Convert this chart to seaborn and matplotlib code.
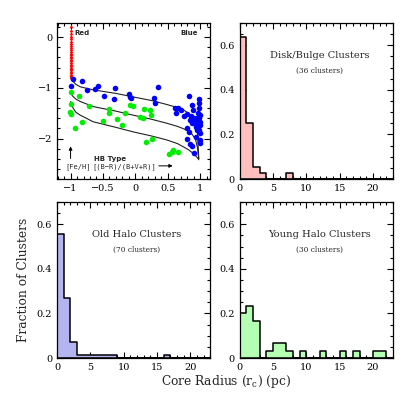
import numpy as np
import pandas as pd
import matplotlib
matplotlib.use("Agg")
import matplotlib.pyplot as plt
from matplotlib.ticker import MultipleLocator
import seaborn as sns

# HB type vs [Fe/H] panel
red_feh = [0.22, 0.14, 0.08, 0.03, -0.02, -0.07, -0.11, -0.15, -0.19, -0.23, -0.27, -0.31,
           -0.34, -0.37, -0.40, -0.43, -0.46, -0.49, -0.52, -0.55, -0.58, -0.61, -0.63,
           -0.66, -0.69, -0.72, -0.75, -0.78]
blue_hb = [-0.97, -1.0, -0.82, -0.74, -0.62, -0.58, -0.49, -0.33, -0.31, -0.09, -0.08, -0.06,
           0.35, 0.29, 0.31, 0.61, 0.63, 0.66, 0.70, 0.75, 0.83, 0.80, 0.98, 0.98, 0.88, 0.89,
           0.91, 0.85, 0.80, 0.83, 0.88, 0.93, 0.96, 1.0, 1.0, 1.0, 0.98, 0.96, 0.80, 0.85,
           0.88, 1.0, 0.91, 1.0, 0.93, 0.97, 0.95, 0.99, 1.0, 0.97, 0.92, 0.86, 0.94, 0.99]
blue_feh = [-0.83, -0.96, -0.86, -1.04, -1.03, -0.96, -1.16, -1.23, -1.00, -1.13, -1.19, -1.21,
            -0.99, -1.21, -1.29, -1.39, -1.50, -1.39, -1.43, -1.56, -1.17, -1.52, -1.23, -1.29,
            -1.34, -1.44, -1.60, -1.64, -1.80, -1.87, -1.70, -1.77, -1.67, -1.54, -1.74, -1.90,
            -1.83, -1.83, -2.00, -2.11, -2.15, -2.09, -2.28, -2.03, -1.97, -1.49, -1.60, -1.60,
            -1.67, -1.77, -1.67, -1.55, -1.73, -1.40]
green_hb = [-1.0, -1.0, -1.01, -1.0, -0.93, -0.87, -0.82, -0.72, -0.50, -0.40, -0.40, -0.28,
            -0.21, -0.16, -0.08, -0.04, 0.08, 0.12, 0.13, 0.17, 0.23, 0.24, 0.25, 0.52, 0.56,
            0.58, 0.66]
green_feh = [-1.09, -1.31, -1.47, -1.52, -1.80, -1.16, -1.67, -1.35, -1.66, -1.41, -1.50, -1.62,
             -1.74, -1.49, -1.34, -1.36, -1.57, -1.59, -1.41, -2.07, -1.43, -1.54, -2.00, -2.30,
             -2.26, -2.23, -2.26]

# model curves (HB type, [Fe/H])
curve_hb = [-1.0, -0.97, -0.92, -0.85, -0.65, -0.3, -0.03, 0.25, 0.49, 0.65, 0.75, 0.82, 0.88, 0.93, 0.96, 0.98]
upper_feh = [-0.78, -0.86, -0.93, -0.98, -1.04, -1.11, -1.18, -1.25, -1.33, -1.39, -1.44, -1.50, -1.57, -1.70, -1.90, -2.40]
middle_feh = [-1.10, -1.16, -1.22, -1.27, -1.37, -1.46, -1.54, -1.62, -1.70, -1.76, -1.81, -1.86, -1.92, -2.02, -2.18, -2.40]
lower_feh = [-1.27, -1.38, -1.48, -1.54, -1.67, -1.78, -1.87, -1.95, -2.03, -2.10, -2.17, -2.22, -2.28, -2.34, -2.38, -2.42]

# core radius histograms: clusters per 1 pc bin, bins 0..23
bin_left = np.arange(0, 23)
disk_counts = [23, 9, 2, 1, 0, 0, 0, 1, 0, 0, 0, 0, 0, 0, 0, 0, 0, 0, 0, 0, 0, 0, 0]
old_counts = [39, 19, 5, 1, 1, 1, 1, 1, 1, 0, 0, 0, 0, 0, 0, 0, 1, 0, 0, 0, 0, 0, 0]
young_counts = [6, 7, 5, 0, 1, 2, 2, 1, 0, 1, 0, 0, 1, 0, 0, 1, 0, 1, 0, 0, 1, 1, 0]

SERIF = "DejaVu Serif"
sns.set_style("ticks", {"xtick.direction": "in", "ytick.direction": "in"})
plt.rcParams['font.family'] = [SERIF, 'DejaVu Sans']
plt.rcParams['mathtext.fontset'] = 'dejavuserif'


def style_axes(ax, xmaj, xmin, ymaj, ymin):
    ax.xaxis.set_major_locator(MultipleLocator(xmaj))
    ax.xaxis.set_minor_locator(MultipleLocator(xmin))
    ax.yaxis.set_major_locator(MultipleLocator(ymaj))
    ax.yaxis.set_minor_locator(MultipleLocator(ymin))
    ax.tick_params(which='both', direction='in', top=True, right=True, labelsize=7,
                   width=0.8, colors='black', pad=3.5)
    ax.tick_params(which='major', length=4)
    ax.tick_params(which='minor', length=2)
    for s in ax.spines.values():
        s.set_visible(True)
        s.set_linewidth(0.9)
        s.set_color('black')
    ax.set_xlabel('')
    ax.set_ylabel('')


def hist_panel(ax, counts, color, title, sub):
    total = sum(counts)
    df = pd.DataFrame({'r': bin_left + 0.5, 'frac': np.array(counts) / total})
    df = df[df['frac'] > 0]
    sns.histplot(data=df, x='r', weights='frac', binwidth=1, binrange=(0, 23), element='step',
                 fill=True, color=color, alpha=1, edgecolor='black', linewidth=1.1, ax=ax)
    ax.set_xlim(0, 23)
    ax.set_ylim(0, 0.7)
    style_axes(ax, 5, 1, 0.2, 0.05)
    ax.yaxis.set_major_formatter(matplotlib.ticker.FuncFormatter(lambda v, p: '0' if v == 0 else f'{v:.1f}'))
    ax.text(12, 0.552, title, ha='center', va='center', fontsize=7.1)
    ax.text(12, 0.485, sub, ha='center', va='center', fontsize=5.3)


fig, axes = plt.subplots(2, 2, figsize=(4.15, 4.15), dpi=100)
fig.subplots_adjust(left=0.1373, right=0.947, top=0.9446, bottom=0.1373, wspace=0.19, hspace=0.147)

ax = axes[0, 0]
sns.lineplot(x=curve_hb, y=upper_feh, sort=False, color='#222222', lw=0.8, ax=ax)
sns.lineplot(x=curve_hb, y=middle_feh, sort=False, color='#222222', lw=0.8, ax=ax)
sns.lineplot(x=curve_hb, y=lower_feh, sort=False, color='#222222', lw=0.8, ax=ax)
sns.scatterplot(x=[-1.0] * len(red_feh), y=red_feh, color='#ff0000', marker='^', s=7,
                linewidth=0, ax=ax, zorder=3)
sns.scatterplot(x=blue_hb, y=blue_feh, color='#0000ff', s=16, linewidth=0, ax=ax, zorder=3)
sns.scatterplot(x=green_hb, y=green_feh, color='#00ee00', s=16, linewidth=0, ax=ax, zorder=3)
ax.set_xlim(-1.21, 1.16)
ax.set_ylim(-2.8, 0.28)
style_axes(ax, 0.5, 0.1, 1, 0.2)
ax.xaxis.set_major_formatter(matplotlib.ticker.FuncFormatter(
    lambda v, p: ('\u2212' if v < 0 else '') + ('%g' % abs(v))))
ax.yaxis.set_major_formatter(matplotlib.ticker.FuncFormatter(
    lambda v, p: ('\u2212' if v < 0 else '') + ('%g' % abs(v))))
ax.text(-0.94, 0.08, 'Red', fontsize=5, fontweight='bold', family='DejaVu Sans', va='center')
ax.text(0.96, 0.08, 'Blue', fontsize=5, fontweight='bold', family='DejaVu Sans', va='center', ha='right')
ax.text(-0.39, -2.40, 'HB Type', fontsize=5, fontweight='bold', family='DejaVu Sans', ha='center', va='center')
ax.text(-0.89, -2.56, '[Fe/H]', fontsize=5, family='DejaVu Sans Mono', ha='center', va='center')
ax.text(-0.17, -2.56, '[(B\u2212R)/(B+V+R)]', fontsize=5, family='DejaVu Sans Mono', ha='center', va='center')
ax.annotate('', xy=(0.62, -2.54), xytext=(0.32, -2.54),
            arrowprops=dict(arrowstyle='-|>', color='black', lw=0.7, mutation_scale=5))
ax.annotate('', xy=(-1.0, -2.10), xytext=(-1.0, -2.45),
            arrowprops=dict(arrowstyle='-|>', color='black', lw=0.7, mutation_scale=5))

hist_panel(axes[0, 1], disk_counts, '#ffbfbf', 'Disk/Bulge Clusters', '(36 clusters)')
hist_panel(axes[1, 0], old_counts, '#b4b4f0', 'Old Halo Clusters', '(70 clusters)')
hist_panel(axes[1, 1], young_counts, '#b4ffb4', 'Young Halo Clusters', '(30 clusters)')

axes[1, 0].set_ylabel('Fraction of Clusters', fontsize=8.8, labelpad=5)
fig.text(0.545, 0.08, 'Core Radius (r$_{\\rm c}$) (pc)', ha='center', va='center', fontsize=8.8)

fig.savefig('out.png', dpi=100)
